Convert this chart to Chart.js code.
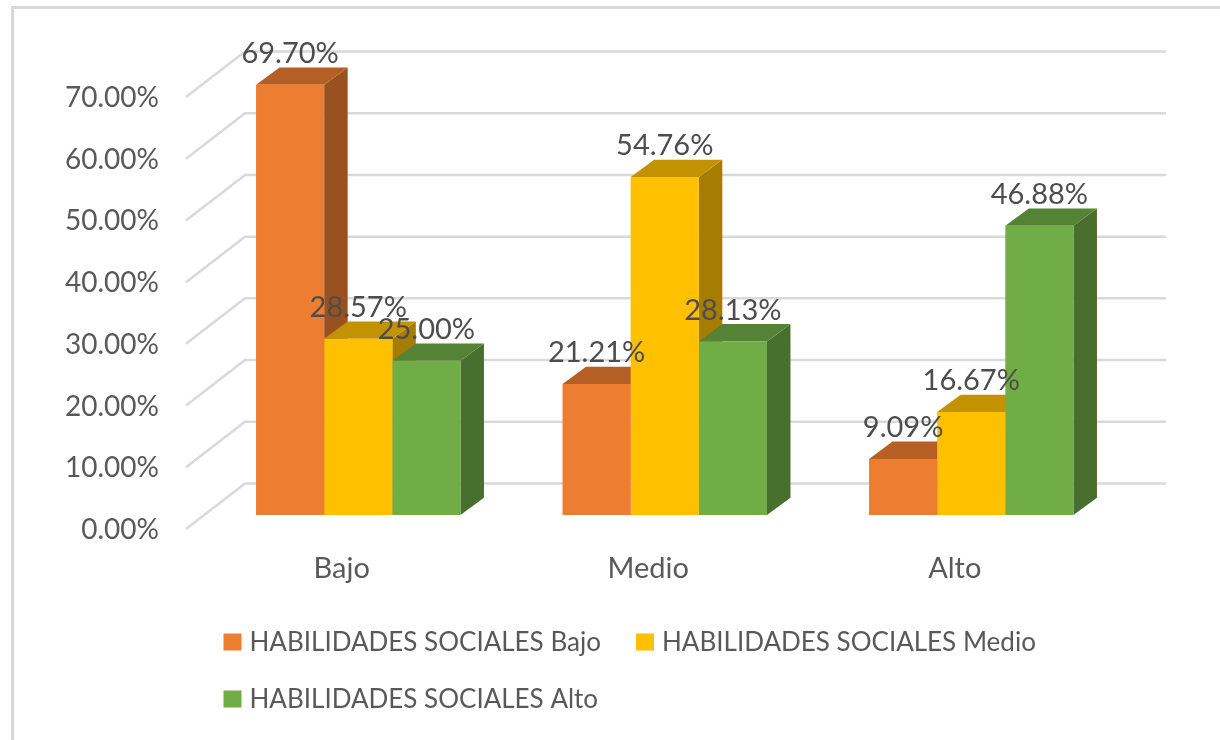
<!DOCTYPE html>
<html>
<head>
<meta charset="utf-8">
<title>Habilidades sociales</title>
<script src="https://cdn.jsdelivr.net/npm/chart.js@4"></script>
<style>
  html, body { margin: 0; padding: 0; background: #fff; }
  canvas { display: block; }
</style>
</head>
<body>
<canvas id="chart" width="1220" height="740"></canvas>
<script>
// Data
const categories = ['Bajo', 'Medio', 'Alto'];
const seriesNames = ['HABILIDADES SOCIALES Bajo', 'HABILIDADES SOCIALES Medio', 'HABILIDADES SOCIALES Alto'];
const bajoValues = [69.70, 21.21, 9.09];
const medioValues = [28.57, 54.76, 16.67];
const altoValues = [25.00, 28.13, 46.88];

// front, top and side colour of each series
const frontColors = ['#ed7d31', '#ffc000', '#70ad47'];
const topColors = ['#b55f25', '#c29200', '#558336'];
const sideColors = ['#9a5120', '#a67d00', '#496f2e'];

const FONT = 'Lato';
const TEXT = '#595959';

function face(ctx, color, pts) {
    ctx.fillStyle = color;
    ctx.beginPath();
    ctx.moveTo(pts[0][0], pts[0][1]);
    pts.slice(1).forEach(p => ctx.lineTo(p[0], p[1]));
    ctx.closePath();
    ctx.fill();
}

// 3d look: frame, back wall grid, bar faces, value labels and legend
const excel3d = {
    id: 'excel3d',
    beforeDatasetsDraw(chart) {
        const ctx = chart.ctx;
        const y = chart.scales.y;
        const base = y.getPixelForValue(0);
        ctx.save();
        ctx.strokeStyle = '#d9d9d9';
        ctx.lineWidth = 3;
        ctx.beginPath();
        ctx.moveTo(12.5, 740);
        ctx.lineTo(12.5, 7.5);
        ctx.lineTo(1220, 7.5);
        ctx.stroke();

        ctx.lineWidth = 2.5;
        y.ticks.forEach(t => {
            const py = y.getPixelForValue(t.value);
            ctx.beginPath();
            ctx.moveTo(186, py + 14);
            ctx.lineTo(245, py - 31.5);
            ctx.lineTo(1166, py - 31.5);
            ctx.stroke();
        });

        // side and top faces go first, the library paints the fronts over them
        const dx = 23.5, dy = 17.3;
        chart.data.datasets.forEach((ds, i) => {
            chart.getDatasetMeta(i).data.forEach(bar => {
                const l = bar.x - bar.width / 2, r = bar.x + bar.width / 2;
                face(ctx, sideColors[i], [[r, bar.y], [r + dx, bar.y - dy], [r + dx, base - dy], [r, base]]);
                face(ctx, topColors[i], [[l, bar.y], [l + dx, bar.y - dy], [r + dx, bar.y - dy], [r, bar.y]]);
            });
        });
        ctx.restore();
    },
    afterDatasetsDraw(chart) {
        const ctx = chart.ctx;
        ctx.save();
        ctx.fillStyle = '#4d4d4d';
        ctx.font = '29px ' + FONT;
        ctx.textAlign = 'center';
        ctx.textBaseline = 'middle';
        chart.data.datasets.forEach((ds, i) => {
            chart.getDatasetMeta(i).data.forEach((bar, j) => {
                ctx.fillText(ds.data[j].toFixed(2) + '%', bar.x, bar.y - 31);
            });
        });

        // legend
        const spots = [[223.5, 642], [636, 642], [223.5, 699]];
        ctx.font = '26px ' + FONT;
        ctx.textAlign = 'left';
        seriesNames.forEach((name, i) => {
            ctx.fillStyle = frontColors[i];
            ctx.fillRect(spots[i][0], spots[i][1] - 8.5, 18, 17);
            ctx.fillStyle = TEXT;
            ctx.fillText(name, spots[i][0] + 26, spots[i][1] + 1);
        });
        ctx.restore();
    }
};

const datasets = [bajoValues, medioValues, altoValues].map((values, i) => ({
    label: seriesNames[i],
    data: values,
    backgroundColor: frontColors[i],
    borderWidth: 0,
    categoryPercentage: 0.667,
    barPercentage: 1
}));

new Chart(document.getElementById('chart').getContext('2d'), {
    type: 'bar',
    data: { labels: categories, datasets: datasets },
    plugins: [excel3d],
    options: {
        responsive: false,
        animation: false,
        devicePixelRatio: 1,
        layout: { padding: { top: 83, right: 95.5, left: 0, bottom: 0 } },
        plugins: { legend: { display: false }, tooltip: { enabled: false } },
        scales: {
            x: {
                grid: { display: false },
                border: { display: false },
                afterFit: s => { s.height = 225; },
                ticks: { color: TEXT, font: { family: FONT, size: 29 }, padding: 28, labelOffset: -16.5 }
            },
            y: {
                min: 0,
                max: 70,
                grid: { display: false },
                border: { display: false },
                afterFit: s => { s.width = 205; },
                ticks: {
                    stepSize: 10,
                    color: TEXT,
                    font: { family: FONT, size: 28 },
                    padding: 38,
                    labelOffset: 15,
                    callback: v => v.toFixed(2) + '%'
                }
            }
        }
    }
});
</script>
</body>
</html>
